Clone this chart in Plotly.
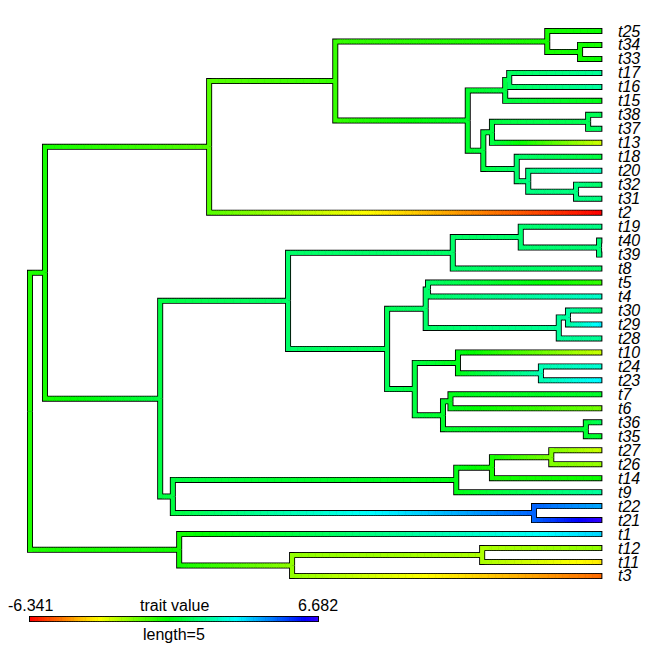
import colorsys
from collections import defaultdict
import plotly.graph_objects as go

# tip labels, top to bottom
tips = ["t25", "t34", "t33", "t17", "t16", "t15", "t38", "t37", "t13", "t18",
        "t20", "t32", "t31", "t2", "t19", "t40", "t39", "t8", "t5", "t4",
        "t30", "t29", "t28", "t10", "t24", "t23", "t7", "t6", "t36", "t35",
        "t27", "t26", "t14", "t9", "t22", "t21", "t1", "t12", "t11", "t3"]
tip_value = [-0.24, -0.40, -0.24, 1.72, 1.82, 0.12, 0.90, 1.20, -2.72, 0.64,
             2.13, 1.15, 1.41, -6.341, 1.51, 1.31, 1.31, 1.10, -0.76, 2.34,
             1.31, 3.17, 1.67, -2.62, 2.44, 3.06, 0.38, -1.59, 1.00, 0.38,
             -2.62, -2.00, -0.24, 1.82, 4.00, 6.682, 3.48, -1.90, -3.50, -5.05]
tip_depth = 9.92

# internal nodes (preorder), their depth from the root and reconstructed trait
nodes = ["n1", "n2", "n3", "n4", "n5", "n6", "n7", "n8", "n9", "n10",
         "n11", "n12", "n13", "n14", "n15", "n16", "n17", "n18", "n19", "n20",
         "n21", "n22", "n23", "n24", "n25", "n26", "n27", "n28", "n29", "n30",
         "n31", "n32", "n33", "n34", "n35", "n36", "n37", "n38", "n39"]
node_depth = [0.00, 0.26, 3.11, 5.30, 8.98, 9.55, 7.60, 8.25, 8.32, 7.87,
              8.02, 9.69, 8.45, 8.65, 9.48, 2.26, 4.48, 7.34, 8.52, 9.88,
              6.20, 6.87, 6.91, 9.18, 9.34, 6.68, 7.43, 8.87, 7.17, 7.30,
              9.65, 2.48, 7.40, 8.02, 9.05, 8.75, 2.59, 4.55, 7.85]
node_value = [-0.50, -0.40, -1.17, -0.76, -0.40, -0.35, 0.38, 0.64, 1.00, 0.64,
              0.64, 0.90, 1.15, 1.41, 1.41, 0.69, 1.10, 1.10, 1.20, 1.31,
              0.90, 1.10, 1.10, 1.72, 1.82, 0.64, 0.12, 2.03, 0.38, 0.17,
              0.48, 0.64, 0.12, -0.40, -1.69, 4.87, -0.35, -1.90, -2.21]

edge_parent = ["n1", "n1", "n2", "n2", "n3", "n3", "n4", "n4", "n5", "n5",
               "n6", "n6", "n7", "n7", "n8", "n8", "n9", "n9", "n10", "n10",
               "n11", "n11", "n12", "n12", "n13", "n13", "n14", "n14", "n15", "n15",
               "n16", "n16", "n17", "n17", "n18", "n18", "n19", "n19", "n20", "n20",
               "n21", "n21", "n22", "n22", "n23", "n23", "n24", "n24", "n25", "n25",
               "n26", "n26", "n27", "n27", "n28", "n28", "n29", "n29", "n30", "n30",
               "n31", "n31", "n32", "n32", "n33", "n33", "n34", "n34", "n35", "n35",
               "n36", "n36", "n37", "n37", "n38", "n38", "n39", "n39"]
edge_child = ["n2", "n37", "n3", "n16", "n4", "t2", "n5", "n7", "t25", "n6",
              "t34", "t33", "n8", "n10", "n9", "t15", "t17", "t16", "n11", "n13",
              "n12", "t13", "t38", "t37", "t18", "n14", "t20", "n15", "t32", "t31",
              "n17", "n32", "n18", "n21", "n19", "t8", "t19", "n20", "t40", "t39",
              "n22", "n26", "n23", "n24", "t5", "t4", "n25", "t28", "t30", "t29",
              "n27", "n29", "t10", "n28", "t24", "t23", "n30", "n31", "t7", "t6",
              "t36", "t35", "n33", "n36", "n34", "t9", "n35", "t14", "t27", "t26",
              "t22", "t21", "t1", "n38", "n39", "t3", "t12", "t11"]

trait_range = [-6.341, 6.682]
bar_length = 5

vmin, vmax = trait_range
nbin = 250


def level(v):
    return round((v - vmin) / (vmax - vmin) * nbin)


def colour(k):
    r, g, b = colorsys.hsv_to_rgb(0.7 * k / nbin, 1, 1)
    return f"rgb({round(r * 255)},{round(g * 255)},{round(b * 255)})"


depth = dict(zip(nodes, node_depth))
depth.update({t: tip_depth for t in tips})
value = dict(zip(nodes, node_value))
value.update(zip(tips, tip_value))

children = defaultdict(list)
for p, c in zip(edge_parent, edge_child):
    children[p].append(c)

ypos = {t: i for i, t in enumerate(tips)}


def place(n):
    if n not in ypos:
        ypos[n] = sum(place(c) for c in children[n]) / len(children[n])
    return ypos[n]


place("n1")

px = 57.6   # pixels per tree unit
py = 13.974  # pixels between tips
step = 0.04
pad = 1 / px

out_x, out_y = [], []
bins = defaultdict(lambda: ([], []))

for p, c in zip(edge_parent, edge_child):
    x0, x1, y0, y1 = depth[p], depth[c], ypos[p], ypos[c]
    tail = pad if c in tips else 0
    out_x += [x0, x0, x1 + tail, None]
    out_y += [y0, y1, y1, None]
    n = max(1, round((x1 - x0) / step))
    for k in range(n):
        xa = x0 + (x1 - x0) * k / n
        xb = x0 + (x1 - x0) * (k + 1) / n + (0.01 if k < n - 1 else 0)
        if k == 0:
            bx, by = bins[level(value[p])]
            bx += [x0, x0, xb, None]
            by += [y0, y1, y1, None]
        else:
            v = value[p] + (value[c] - value[p]) * (k + 0.5) / n
            bx, by = bins[level(v)]
            bx += [xa, xb, None]
            by += [y1, y1, None]

# colour bar (legend), drawn below the tree, bar_length tree units long
bar_y = 42.08
out_x += [-pad, bar_length + pad, None]
out_y += [bar_y, bar_y, None]
nb = 120
for k in range(nb):
    xa = bar_length * k / nb
    xb = bar_length * (k + 1) / nb + (0.01 if k < nb - 1 else 0)
    v = vmin + (vmax - vmin) * (k + 0.5) / nb
    bx, by = bins[level(v)]
    bx += [xa, xb, None]
    by += [bar_y, bar_y, None]

fig = go.Figure()
fig.add_trace(go.Scatter(x=out_x, y=out_y, mode="lines",
                         line=dict(color="black", width=6), hoverinfo="skip"))
for k in sorted(bins):
    bx, by = bins[k]
    fig.add_trace(go.Scatter(x=bx, y=by, mode="lines",
                             line=dict(color=colour(k), width=4.2), hoverinfo="skip"))

font = dict(family="Liberation Sans, Arial, sans-serif", size=16, color="black")
for i, t in enumerate(tips):
    fig.add_annotation(x=tip_depth + 14.5 / px, y=i, text=f"<i>{t}</i>",
                       xanchor="left", yanchor="middle", showarrow=False, font=font)

fig.add_annotation(x=0, y=41.08, text=f"{vmin:.3f}", showarrow=False, font=font)
fig.add_annotation(x=bar_length / 2, y=41.08, text="trait value", showarrow=False, font=font)
fig.add_annotation(x=bar_length, y=41.08, text=f"{vmax:.3f}", showarrow=False, font=font)
fig.add_annotation(x=bar_length / 2, y=43.22, text=f"length={bar_length}",
                   showarrow=False, font=font)

# page body keeps an 8px margin, so the figure is a little smaller than the window
W, H = 664, 663
fig.update_xaxes(visible=False, range=[-22 / px, (W - 22) / px])
fig.update_yaxes(visible=False, range=[(H - 23) / py, -23 / py])
fig.update_layout(width=W, height=H, margin=dict(l=0, r=0, t=0, b=0),
                  showlegend=False, plot_bgcolor="white", paper_bgcolor="white",
                  hovermode=False)

fig.write_html("out.html")
